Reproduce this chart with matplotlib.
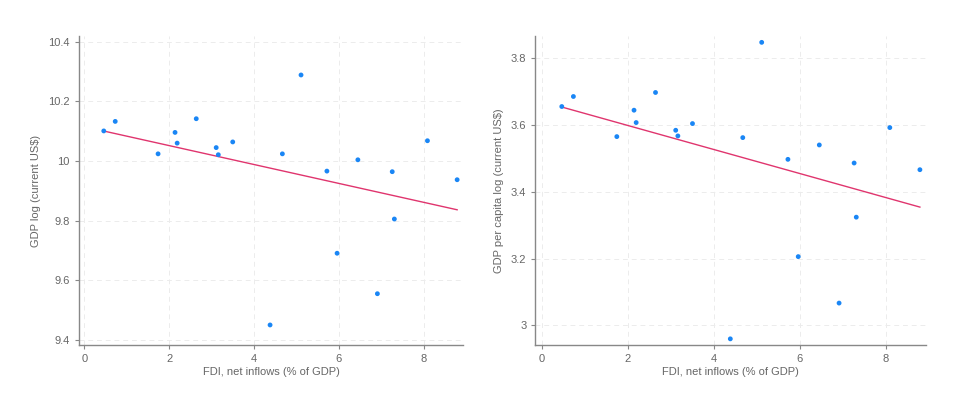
import numpy as np
import matplotlib
matplotlib.use("Agg")
import matplotlib.pyplot as plt
from matplotlib.ticker import FormatStrFormatter

plt.rcParams["font.family"] = ["Liberation Sans", "DejaVu Sans"]

fdi = [0.46, 0.73, 1.74, 2.14, 2.19, 2.64, 3.11, 3.16, 3.50, 4.38,
       4.67, 5.11, 5.72, 5.96, 6.45, 6.91, 7.26, 7.31, 8.09, 8.79]
gdp_log = [10.101, 10.133, 10.024, 10.096, 10.060, 10.142, 10.045, 10.021, 10.064, 9.449,
           10.024, 10.289, 9.966, 9.690, 10.004, 9.554, 9.964, 9.805, 10.068, 9.937]
gdp_pc_log = [3.655, 3.685, 3.565, 3.644, 3.607, 3.697, 3.584, 3.567, 3.604, 2.960,
              3.562, 3.847, 3.497, 3.206, 3.540, 3.067, 3.486, 3.324, 3.592, 3.466]

x_ticks = [0, 2, 4, 6, 8]
panels = [
    (gdp_log, "GDP log (current US$)", [9.4, 9.6, 9.8, 10, 10.2, 10.4], (9.381, 10.42), (-0.125, 8.93),
     [0.0814, 0.156, 0.396, 0.756]),
    (gdp_pc_log, "GDP per capita log (current US$)", [3, 3.2, 3.4, 3.6, 3.8], (2.941, 3.866), (-0.153, 8.94),
     [0.552, 0.156, 0.403, 0.756]),
]

grey = "#666666"
fig = plt.figure(figsize=(9.7, 4.09), dpi=100)

for y, ylabel, yticks, ylim, xlim, rect in panels:
    ax = fig.add_axes(rect)
    x = np.array(fdi)
    yv = np.array(y)
    slope, icpt = np.polyfit(x, yv, 1)
    xs = np.array([x.min(), x.max()])
    ax.plot(xs, icpt + slope * xs, color="#e0356e", lw=1.0, zorder=2)
    ax.scatter(x, yv, s=12, color="#1a86f5", edgecolors="none", zorder=3)

    ax.set_xlim(*xlim)
    ax.set_ylim(*ylim)
    ax.set_xticks(x_ticks)
    ax.set_yticks(yticks)
    ax.yaxis.set_major_formatter(FormatStrFormatter("%g"))
    ax.grid(True, color="#ececec", ls=(0, (5, 4)), lw=0.7)
    ax.set_axisbelow(True)
    for s in ["top", "right"]:
        ax.spines[s].set_visible(False)
    for s in ["left", "bottom"]:
        ax.spines[s].set_color("#888888")
        ax.spines[s].set_linewidth(1.0)
    ax.tick_params(colors="#888888", labelcolor=grey, labelsize=8, length=3, width=0.8)
    ax.set_xlabel("FDI, net inflows (% of GDP)", fontsize=8, color=grey, labelpad=2)
    ax.set_ylabel(ylabel, fontsize=8, color=grey, labelpad=5)

fig.savefig("out.png", dpi=100)
